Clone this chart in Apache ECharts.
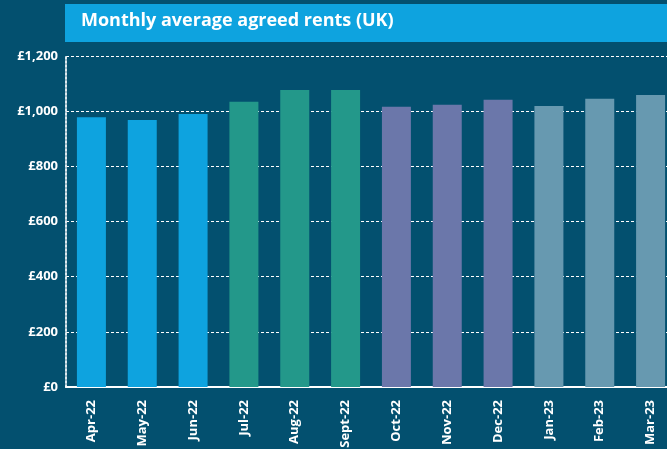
<!DOCTYPE html>
<html>
<head>
<meta charset="utf-8">
<script src="https://cdn.jsdelivr.net/npm/echarts@6/dist/echarts.min.js"></script>
<style>
  html, body { margin: 0; padding: 0; background: #03506f; }
  #chart { width: 667px; height: 449px; }
</style>
</head>
<body>
<div id="chart"></div>
<script>
// data
const months = ['Apr-22', 'May-22', 'Jun-22', 'Jul-22', 'Aug-22', 'Sept-22',
  'Oct-22', 'Nov-22', 'Dec-22', 'Jan-23', 'Feb-23', 'Mar-23']
const rents = [978, 968, 990, 1034, 1077, 1077, 1016, 1023, 1041, 1019, 1045, 1059]

// one colour per quarter
const quarterColors = ['#0ea3df', '#23988a', '#6b77aa', '#6799b0']

const chart = echarts.init(document.getElementById('chart'))

const option = {
  backgroundColor: '#03506f',
  textStyle: { fontFamily: 'Open Sans' },
  graphic: [
    {
      type: 'rect',
      shape: { x: 65, y: 4, width: 602, height: 38 },
      style: { fill: '#0ea3df' }
    },
    {
      type: 'text',
      left: 81,
      top: 12,
      style: {
        text: 'Monthly average agreed rents (UK)',
        fill: '#ffffff',
        font: 'bold 18px "Open Sans"'
      }
    }
  ],
  grid: {
    left: 66,
    top: 56,
    width: 610,
    bottom: 62,
    outerBoundsMode: 'none'
  },
  xAxis: {
    type: 'category',
    data: months,
    axisLine: { lineStyle: { color: '#ffffff', width: 2 } },
    axisTick: { show: false },
    axisLabel: {
      rotate: 90,
      color: '#ffffff',
      fontWeight: 'bold',
      fontSize: 13,
      margin: 13,
      interval: 0
    }
  },
  yAxis: {
    type: 'value',
    min: 0,
    max: 1200,
    interval: 200,
    axisLine: { show: true, lineStyle: { color: '#dde8ee', width: 2, type: [2, 2] } },
    axisTick: { show: false },
    axisLabel: {
      color: '#ffffff',
      fontWeight: 'bold',
      fontSize: 13,
      margin: 8,
      formatter: v => '£' + v.toLocaleString('en-GB')
    },
    splitLine: { lineStyle: { color: '#ffffff', width: 1, type: [3, 2] } }
  },
  series: [{
    type: 'bar',
    barWidth: 29,
    data: rents.map((v, i) => ({
      value: v,
      itemStyle: { color: quarterColors[Math.floor(i / 3)] }
    }))
  }]
}

chart.setOption(option)
</script>
</body>
</html>
